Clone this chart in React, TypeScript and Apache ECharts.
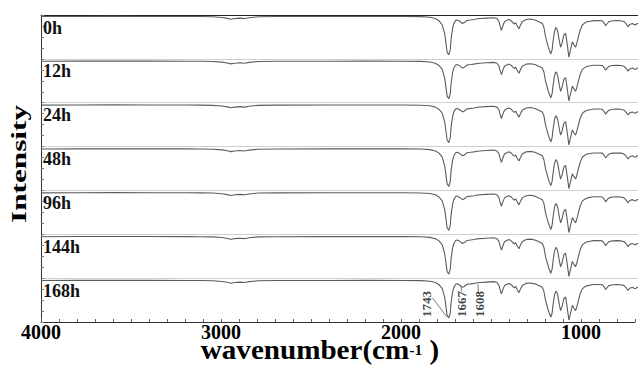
import React, { useEffect, useRef } from 'react';
import * as echarts from 'echarts';

const sampleLabels = ['0h', '12h', '24h', '48h', '96h', '144h', '168h'];
const bandMax = [98, 100, 100, 100, 100, 100, 100];

const wavenumbers = [
  4000, 3800, 3600, 3400, 3200, 3120, 3050, 3000, 2970, 2950, 2930, 2900, 2875, 2850, 2800, 2700, 2400, 2200, 2000,
  1900, 1850, 1820, 1800, 1782, 1768, 1755, 1746, 1738, 1733, 1725, 1718, 1708, 1700, 1685, 1670, 1660, 1645, 1626,
  1608, 1600, 1589, 1540, 1497, 1480, 1469, 1462, 1455, 1446, 1438, 1425, 1414, 1400, 1390, 1383, 1376, 1368, 1358,
  1350, 1340, 1318, 1294, 1270, 1248, 1229, 1220, 1211, 1195, 1182, 1175, 1170, 1162, 1155, 1149, 1143, 1135, 1128,
  1120, 1110, 1100, 1092, 1082, 1073, 1063, 1055, 1045, 1038, 1032, 1020, 1008, 995, 980, 944, 920, 897, 887, 879,
  870, 861, 840, 814, 795, 777, 765, 755, 745, 731, 722, 713, 705, 700,
];
const intensity = [
  94.5, 94.8, 95, 94.8, 94.7, 94.5, 94, 92.5, 90.5, 88.5, 90, 91, 90, 92, 94, 94.5, 94.7, 94.8, 94.7,
  94.3, 93, 90, 85, 76, 55, 15, 9, 20, 45, 68, 79, 86, 87, 84, 79, 81, 86, 87,
  88, 88.5, 89.5, 91, 92, 90, 84, 73, 64, 75, 83, 86, 88, 85, 80, 78, 81, 74, 67,
  75, 83, 88, 89, 87, 83, 79, 70, 49, 25, 11, 20, 38, 60, 70, 68, 60, 40, 26,
  35, 53, 57, 35, 4, 20, 38, 32, 26, 35, 45, 64, 75.6, 80, 83, 85.5, 85.5, 85, 80, 74,
  79, 83, 85, 85.5, 85, 83, 78, 72, 77, 79, 77, 76, 79, 79,
];

const xTickLabels = [4000, 3000, 2000, 1000];

const peakLabels = ['1743', '1667', '1608'];
const peakTextWn = [1870, 1673, 1576];
const peakTextVal = [41, 41, 41];
const leaderFrom = [[1836, 55], [1681, 82], [1585, 86]];
const leaderTo = [[1756, 11.6], [1673, 69], [1582, 65]];

const FONT = '"Liberation Serif", "Times New Roman", serif';

export default function App() {
  const ref = useRef<HTMLDivElement>(null);

  useEffect(() => {
    if (!ref.current) return;
    const chart = echarts.init(ref.current, undefined, { renderer: 'svg' });
    const N = sampleLabels.length;
    const TOP = 15;
    const H = 307;
    const bandH = H / N;
    const LEFT = 41;

    const grids: any[] = [];
    const xAxes: any[] = [];
    const yAxes: any[] = [];
    const series: any[] = [];
    const graphics: any[] = [];

    const spectrum = wavenumbers.map((w, k) => [w, intensity[k]]);

    for (let i = 0; i < N; i++) {
      grids.push({ left: LEFT, right: 0, top: TOP + i * bandH, height: bandH });
      xAxes.push({
        type: 'value', gridIndex: i, min: 700, max: 4000, inverse: true, position: 'top',
        axisLine: { show: true, onZero: false, lineStyle: { color: i === 0 ? '#222' : '#cfcfcf', width: 1 } },
        axisTick: { show: false }, axisLabel: { show: false }, splitLine: { show: false },
      });
      yAxes.push({
        type: 'value', gridIndex: i, min: 0, max: bandMax[i], show: false, splitLine: { show: false },
      });
      series.push({
        type: 'line', xAxisIndex: i, yAxisIndex: i, data: spectrum, showSymbol: false, silent: true,
        lineStyle: { color: '#5c5c5c', width: 1.1 }, z: 3,
      });
      graphics.push({
        type: 'text', x: 43, y: TOP + i * bandH + 12.5,
        style: { text: sampleLabels[i], font: `bold 18px ${FONT}`, fill: '#111', textAlign: 'left', textVerticalAlign: 'middle' },
      });
    }

    // overlay frame grid
    grids.push({ left: LEFT, right: 0, top: TOP, height: H });
    xAxes.push({
      type: 'value', gridIndex: N, min: 700, max: 4000, interval: 100, inverse: true, position: 'bottom',
      axisLine: { show: true, onZero: false, lineStyle: { color: '#333', width: 1 } },
      axisTick: { show: true, inside: true, length: 3, lineStyle: { color: '#666' } },
      axisLabel: {
        show: true, interval: 0, margin: 0, color: '#000', fontFamily: FONT, fontWeight: 'bold', fontSize: 20,
        formatter: (v: number) => (xTickLabels.includes(v) ? String(v) : ''),
      },
      splitLine: { show: false },
    });
    yAxes.push({
      type: 'value', gridIndex: N, min: 0, max: 28, interval: 1,
      axisLine: { show: true, onZero: false, lineStyle: { color: '#333', width: 1 } },
      axisTick: { show: true, inside: true, length: 3, lineStyle: { color: '#777' } },
      axisLabel: { show: false }, splitLine: { show: false },
    });

    // annotation leaders and labels on the last band
    const last = N - 1;
    for (let j = 0; j < peakLabels.length; j++) {
      series.push({
        type: 'line', xAxisIndex: last, yAxisIndex: last, data: [leaderFrom[j], leaderTo[j]],
        showSymbol: false, silent: true, lineStyle: { color: '#555', width: 0.8 }, z: 4,
      });
    }
    series.push({
      type: 'scatter', xAxisIndex: last, yAxisIndex: last, symbolSize: 0, silent: true,
      data: peakLabels.map((l, j) => [peakTextWn[j], peakTextVal[j], l]),
      label: {
        show: true, position: 'inside', rotate: 90, color: '#111', fontFamily: FONT, fontWeight: 'bold', fontSize: 13,
        formatter: (p: any) => p.data[2],
      },
      z: 5,
    });

    graphics.push({
      type: 'text', x: 19, y: 164, rotation: Math.PI / 2, scaleX: 1.42,
      style: { text: 'Intensity', font: `bold 22px ${FONT}`, fill: '#000', textAlign: 'center', textVerticalAlign: 'middle' },
    });
    graphics.push({
      type: 'text', x: 320, y: 350, scaleX: 1.04,
      style: {
        text: '{a|wavenumber(cm}{s|-1}{a| )}',
        textAlign: 'center', textVerticalAlign: 'middle', fill: '#000',
        rich: {
          a: { fontFamily: FONT, fontWeight: 'bold', fontSize: 28, fill: '#000' },
          s: { fontFamily: FONT, fontWeight: 'bold', fontSize: 15, fill: '#000' },
        },
      },
    });

    chart.setOption({
      animation: false,
      backgroundColor: '#fff',
      grid: grids,
      xAxis: xAxes,
      yAxis: yAxes,
      series,
      graphic: graphics,
    });

    return () => chart.dispose();
  }, []);

  return <div ref={ref} style={{ position: 'fixed', left: 0, top: 0, width: 638, height: 368 }} />;
}
